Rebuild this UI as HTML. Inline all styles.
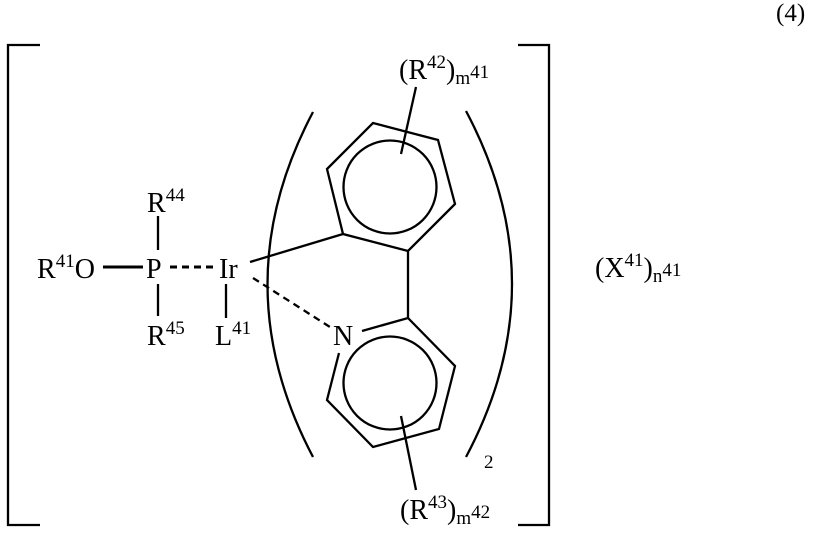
<!DOCTYPE html>
<html><head><meta charset="utf-8"><style>
body{margin:0;background:#fff}
svg text{font-family:"Liberation Serif",serif;font-size:28px;fill:#000}
.s{font-size:19px}
</style></head><body>
<svg width="813" height="537" viewBox="0 0 813 537" xmlns="http://www.w3.org/2000/svg">
<g stroke="#000" stroke-width="2.3" fill="none">
<polyline points="40,45 8,45 8,525 40,525"/>
<polyline points="518,45 549,45 549,525 518,525"/>
<path d="M313,112 Q222,284 313,457"/>
<path d="M466,111 Q558,284 466,457"/>
<polygon points="373,123 438,140 455,204 408,251 343,234 327,169"/>
<circle cx="390" cy="187" r="46.5"/>
<polyline points="362,331 408,318 455,366 439,429 373,447 327,400 339,353"/>
<circle cx="390" cy="383" r="46.5"/>
<line x1="408" y1="251" x2="408" y2="318"/>
<line x1="343" y1="234" x2="250" y2="262"/>
<line x1="253" y1="278" x2="330" y2="327" stroke-dasharray="7,5"/>
<line x1="416" y1="87" x2="401" y2="154"/>
<line x1="401" y1="416" x2="416" y2="490"/>
<line x1="103" y1="267" x2="143" y2="267" stroke-width="3"/>
<line x1="170" y1="267" x2="218" y2="267" stroke-width="3" stroke-dasharray="7,5"/>
<line x1="158" y1="216" x2="158" y2="250"/>
<line x1="158" y1="284" x2="158" y2="316"/>
<line x1="226" y1="284" x2="226" y2="318"/>
</g>
<text x="776" y="21" style="font-size:25px">(4)</text>
<text x="37" y="278">R<tspan class="s" dy="-11">41</tspan><tspan dy="11">O</tspan></text>
<text x="146" y="278">P</text>
<text x="219" y="278">Ir</text>
<text x="147" y="212">R<tspan class="s" dy="-11">44</tspan></text>
<text x="147" y="345">R<tspan class="s" dy="-11">45</tspan></text>
<text x="215" y="345">L<tspan class="s" dy="-11">41</tspan></text>
<text x="333" y="345">N</text>
<text x="399" y="79">(R<tspan class="s" dy="-11">42</tspan><tspan dy="11">)</tspan><tspan class="s" dy="5">m</tspan><tspan class="s" dy="-6">41</tspan></text>
<text x="400" y="519">(R<tspan class="s" dy="-11">43</tspan><tspan dy="11">)</tspan><tspan class="s" dy="5">m</tspan><tspan class="s" dy="-6">42</tspan></text>
<text x="595" y="277">(X<tspan class="s" dy="-11">41</tspan><tspan dy="11">)</tspan><tspan class="s" dy="5">n</tspan><tspan class="s" dy="-6">41</tspan></text>
<text x="484" y="468" class="s">2</text>
</svg>
</body></html>
